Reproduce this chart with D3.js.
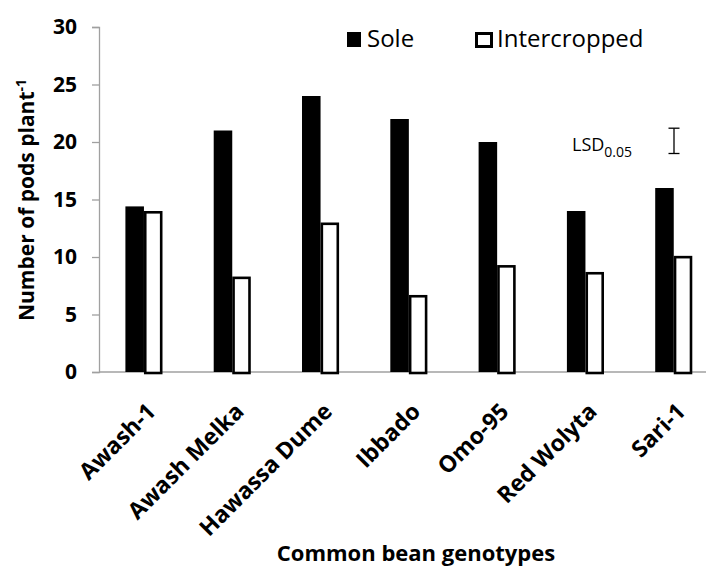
<!DOCTYPE html>
<html><head><meta charset="utf-8">
<script src="https://cdn.jsdelivr.net/npm/d3@7"></script>
<style>body{margin:0;background:#fff}svg{display:block}text{font-family:"Open Sans",sans-serif}</style>
</head><body><svg id="c" width="706" height="570"></svg>
<script>
const categories = ["Awash-1","Awash Melka","Hawassa Dume","Ibbado","Omo-95","Red Wolyta","Sari-1"];
const series = ["Sole","Intercropped"];
const sole = [14.4,21.0,24.0,22.0,20.0,14.0,16.0];
const intercropped = [14.0,8.3,13.0,6.7,9.3,8.7,10.1];
const yTicks = [0,5,10,15,20,25,30];
const lsd = {value:2.2, center:20.1, category:"Sari-1"};

const svg = d3.select("#c");
const x0 = 99, y0 = 372, yTop = 27;
const x = d3.scaleBand().domain(categories).range([99.8, 99.8+7*88.3]).paddingInner(0.58).paddingOuter(0.29);
const xs = d3.scaleBand().domain(series).range([0, x.bandwidth()]);
const y = d3.scaleLinear().domain([0,30]).range([y0, yTop]);

// axes
const ya = svg.append("g").attr("transform",`translate(${x0},0)`)
  .call(d3.axisLeft(y).tickValues(yTicks).tickSize(7).tickPadding(15).tickFormat(d3.format("d")));
ya.select(".domain").attr("stroke","#a0a0a0").attr("stroke-width",1.3);
ya.selectAll(".tick line").attr("stroke","#a0a0a0").attr("stroke-width",1.3);
ya.selectAll(".tick text").attr("font-size",21).attr("font-weight","bold").attr("fill","#000").attr("font-family","Open Sans");

svg.append("line").attr("x1",x0).attr("x2",706).attr("y1",y0).attr("y2",y0).attr("stroke","#a0a0a0").attr("stroke-width",1.3);

// bars
const g = svg.append("g");
categories.forEach((c,i)=>{
  g.append("rect").attr("x",x(c)+xs("Sole")).attr("width",xs.bandwidth())
    .attr("y",y(sole[i])).attr("height",y(0)-y(sole[i])).attr("fill","#000");
  const sw = 2.6;
  g.append("rect").attr("x",x(c)+xs("Intercropped")+sw/2).attr("width",xs.bandwidth()-sw)
    .attr("y",y(intercropped[i])+sw/2).attr("height",y(0)-y(intercropped[i])-sw/2+1)
    .attr("fill","#fff").attr("stroke","#000").attr("stroke-width",sw);
});

// x labels
categories.forEach(c=>{
  const cx = x(c)+x.bandwidth()/2;
  svg.append("text").attr("transform",`translate(${cx+13},${413}) rotate(-45)`)
    .attr("text-anchor","end").attr("font-size",23).attr("font-weight","bold").text(c);
});

// axis titles
const yt = svg.append("text").attr("transform","translate(34,200) rotate(-90)")
  .attr("text-anchor","middle").attr("font-size",21).attr("font-weight","bold");
yt.append("tspan").text("Number of pods plant");
yt.append("tspan").attr("font-size",14).attr("dy",-8).text("-1");
svg.append("text").attr("x",416).attr("y",561).attr("text-anchor","middle")
  .attr("font-size",22).attr("font-weight","bold").text("Common bean genotypes");

// legend
svg.append("rect").attr("x",347).attr("y",32).attr("width",14).attr("height",15).attr("fill","#000");
svg.append("text").attr("x",367).attr("y",47).attr("font-size",24).text(series[0]);
svg.append("rect").attr("x",476.5).attr("y",33.5).attr("width",15).attr("height",13).attr("fill","#fff").attr("stroke","#000").attr("stroke-width",3);
svg.append("text").attr("x",497).attr("y",47).attr("font-size",24).text(series[1]);

// LSD
const lx = 674;
const lt = svg.append("text").attr("x",572).attr("y",151).attr("font-size",18);
lt.append("tspan").text("LSD");
lt.append("tspan").attr("font-size",14).attr("dy",6).text("0.05");
const lyT = y(lsd.center+lsd.value/2), lyB = y(lsd.center-lsd.value/2);
svg.append("line").attr("x1",lx).attr("x2",lx).attr("y1",lyT).attr("y2",lyB).attr("stroke","#000").attr("stroke-width",1.3);
[lyT,lyB].forEach(v=>svg.append("line").attr("x1",lx-5.5).attr("x2",lx+5.5).attr("y1",v).attr("y2",v).attr("stroke","#000").attr("stroke-width",1.3));
</script></body></html>
